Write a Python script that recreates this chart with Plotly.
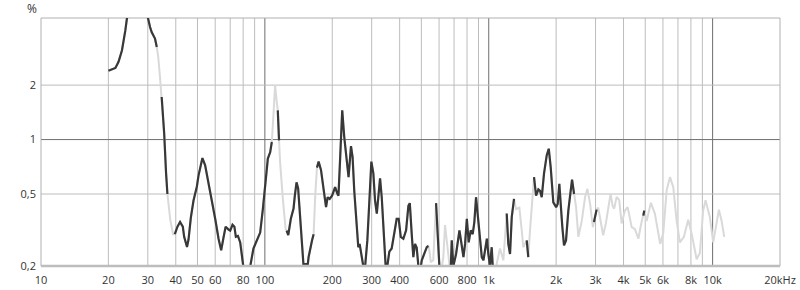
import math
import plotly.graph_objects as go

# ---- data (frequency in Hz, distortion in %) ----
freq_hz = [20.0, 21.5, 22.2, 23.0, 23.8, 24.2, 25.0, 26.5, 28.5, 29.6,
           30.0, 30.7, 31.2, 32.3, 32.9, 33.4, 34.0, 34.6, 35.5, 36.2,
           36.7, 37.8, 38.9, 39.6, 40.7, 41.8, 43.0, 43.6, 44.9, 45.6,
           46.7, 48.0, 49.7, 50.5, 52.6, 54.1, 55.9, 58.0, 60.0, 62.1,
           63.8, 65.2, 66.8, 68.8, 70.0, 71.7, 73.1, 74.2, 75.8, 77.6,
           78.9, 80.2, 83.0, 85.9, 88.9, 92.1, 95.3, 98.0, 101, 103.1,
           105.6, 107.4, 109.2, 111.1, 113, 114.2, 115.7, 116.9, 120.5, 123.8,
           125.1, 127.2, 130.6, 134.3, 136.1, 138.5, 140.8, 143.2, 145.8, 148.2,
           149.5, 150.9, 152.3, 154.0, 156.8, 162.4, 165.1, 168, 170.9, 173.8,
           178.1, 183, 187.6, 190.7, 194.7, 199.6, 206, 211, 213.2, 217,
           221.6, 226.3, 232.7, 236.5, 242.5, 246.5, 250.8, 256, 261.4, 265,
           269.6, 275.4, 278, 280.5, 286.9, 293, 299, 305.2, 310.6, 316.2,
           321.4, 327, 332.7, 338.3, 344.1, 348, 352.4, 359.7, 368.6, 378.6,
           388, 396, 404.5, 415.5, 427.4, 437.6, 444, 452.9, 460.4, 468.5,
           476.6, 485, 492, 502, 528.7, 537.6, 543.2, 551, 565, 581.7,
           589.6, 601.8, 610, 627, 638, 653.5, 667, 675, 683.6, 695,
           714.6, 739.8, 758.3, 771, 784, 798.4, 813.7, 830.8, 848, 862.4,
           877.6, 893.2, 915, 931, 947, 964, 981, 996, 1013, 1031,
           1042, 1060, 1104, 1123, 1162, 1203, 1223, 1245, 1267, 1297,
           1324, 1370, 1404, 1427, 1478, 1502, 1529, 1582, 1593, 1627,
           1666, 1695, 1725, 1766, 1816, 1854, 1892, 1943, 2000, 2033,
           2067, 2097, 2132, 2169, 2214, 2267, 2307, 2356, 2405, 2455,
           2514, 2604, 2694, 2759, 2838, 2918, 2951, 3033, 3084, 3138,
           3244, 3336, 3417, 3502, 3575, 3634, 3725, 3827, 3923, 4058,
           4173, 4350, 4500, 4660, 4785, 4905, 4949, 5073, 5300, 5522,
           5831, 6019, 6235, 6450, 6673, 6907, 7145, 7445, 7780, 8058,
           8485, 8772, 9074, 9300, 9717, 10062, 10420, 10670, 10970, 11270]

thd_pct = [2.40, 2.49, 2.69, 3.12, 4.0, 4.67, 5.6, 7.0, 6.2, 5.0,
           4.67, 4.19, 3.93, 3.62, 3.25, 2.86, 2.22, 1.72, 1.08, 0.65,
           0.50, 0.36, 0.30, 0.30, 0.33, 0.35, 0.33, 0.29, 0.255, 0.28,
           0.37, 0.46, 0.55, 0.63, 0.79, 0.72, 0.58, 0.47, 0.365, 0.283,
           0.244, 0.283, 0.33, 0.318, 0.314, 0.338, 0.33, 0.29, 0.293, 0.27,
           0.229, 0.197, 0.165, 0.197, 0.25, 0.277, 0.306, 0.415, 0.63, 0.785,
           0.85, 0.97, 1.36, 2.0, 1.61, 1.45, 0.99, 0.755, 0.46, 0.32,
           0.314, 0.296, 0.365, 0.415, 0.49, 0.58, 0.537, 0.38, 0.27, 0.197,
           0.185, 0.205, 0.205, 0.185, 0.224, 0.277, 0.30, 0.50, 0.70, 0.755,
           0.68, 0.52, 0.423, 0.48, 0.47, 0.49, 0.546, 0.50, 0.49, 0.80,
           1.45, 1.03, 0.70, 0.62, 0.92, 0.80, 0.52, 0.344, 0.254, 0.265,
           0.233, 0.20, 0.185, 0.20, 0.277, 0.46, 0.755, 0.65, 0.46, 0.39,
           0.48, 0.61, 0.48, 0.30, 0.20, 0.18, 0.20, 0.24, 0.25, 0.315,
           0.365, 0.365, 0.29, 0.283, 0.315, 0.43, 0.445, 0.30, 0.224, 0.265,
           0.253, 0.20, 0.18, 0.215, 0.254, 0.258, 0.243, 0.21, 0.215, 0.445,
           0.30, 0.20, 0.18, 0.224, 0.337, 0.265, 0.20, 0.18, 0.277, 0.20,
           0.233, 0.315, 0.265, 0.224, 0.265, 0.365, 0.27, 0.315, 0.30, 0.35,
           0.48, 0.39, 0.283, 0.224, 0.215, 0.254, 0.283, 0.233, 0.20, 0.254,
           0.20, 0.18, 0.224, 0.25, 0.215, 0.39, 0.265, 0.233, 0.373, 0.47,
           0.413, 0.42, 0.315, 0.254, 0.277, 0.224, 0.315, 0.52, 0.62, 0.49,
           0.53, 0.52, 0.48, 0.65, 0.82, 0.89, 0.70, 0.45, 0.423, 0.44,
           0.57, 0.423, 0.328, 0.26, 0.277, 0.405, 0.50, 0.60, 0.50, 0.423,
           0.29, 0.355, 0.482, 0.534, 0.44, 0.328, 0.35, 0.41, 0.42, 0.373,
           0.296, 0.344, 0.423, 0.503, 0.43, 0.415, 0.482, 0.462, 0.344, 0.405,
           0.423, 0.328, 0.32, 0.283, 0.337, 0.38, 0.405, 0.355, 0.447, 0.39,
           0.265, 0.304, 0.525, 0.62, 0.546, 0.355, 0.27, 0.29, 0.36, 0.302,
           0.218, 0.236, 0.405, 0.462, 0.373, 0.27, 0.344, 0.41, 0.355, 0.29]

# 1 = drawn dark, 0 = drawn light grey
dark_flag = [1, 1, 1, 1, 1, 1, 1, 1, 1, 1,
             1, 1, 1, 1, 1, 0, 0, 1, 1, 1,
             1, 0, 0, 1, 1, 1, 1, 1, 1, 1,
             1, 1, 1, 1, 1, 1, 1, 1, 1, 1,
             1, 1, 1, 1, 1, 1, 1, 1, 1, 1,
             1, 1, 1, 1, 1, 1, 1, 1, 1, 1,
             1, 1, 0, 0, 0, 1, 1, 0, 0, 0,
             1, 1, 1, 1, 1, 1, 1, 1, 1, 1,
             1, 1, 1, 1, 1, 1, 1, 0, 1, 1,
             1, 1, 1, 1, 1, 1, 1, 1, 1, 1,
             1, 1, 1, 1, 1, 1, 1, 1, 1, 1,
             1, 1, 1, 1, 1, 1, 1, 1, 1, 1,
             1, 1, 1, 1, 1, 1, 1, 1, 1, 1,
             1, 1, 1, 1, 1, 1, 1, 1, 1, 1,
             1, 1, 1, 1, 1, 1, 0, 0, 0, 1,
             1, 1, 1, 0, 0, 0, 0, 1, 1, 1,
             1, 1, 1, 1, 1, 1, 1, 1, 1, 1,
             1, 1, 1, 1, 1, 1, 1, 1, 1, 1,
             1, 1, 0, 0, 0, 1, 1, 1, 1, 1,
             0, 0, 0, 0, 1, 1, 0, 0, 1, 1,
             1, 1, 1, 1, 1, 1, 1, 1, 1, 1,
             1, 1, 1, 1, 1, 1, 1, 1, 1, 0,
             0, 0, 0, 0, 0, 0, 1, 1, 0, 0,
             0, 0, 0, 0, 0, 0, 0, 0, 0, 0,
             0, 0, 0, 0, 0, 1, 1, 0, 0, 0,
             0, 0, 0, 0, 0, 0, 0, 0, 0, 0,
             0, 0, 0, 0, 0, 0, 0, 0, 0, 0]

x_tick_vals = [10, 20, 30, 40, 50, 60, 80, 100, 200, 300, 400, 600, 800,
               1000, 2000, 3000, 4000, 5000, 6000, 8000, 10000, 20000]
x_tick_text = ["10", "20", "30", "40", "50", "60", "80", "100", "200", "300",
               "400", "600", "800", "1k", "2k", "3k", "4k", "5k", "6k", "8k",
               "10k", "20kHz"]
y_tick_vals = [0.2, 0.5, 1, 2]
y_tick_text = ["0,2", "0,5", "1", "2"]

minor_grid_x = [20, 30, 40, 50, 60, 70, 80, 90, 200, 300, 400, 500, 600, 700,
                800, 900, 2000, 3000, 4000, 5000, 6000, 7000, 8000, 9000]
major_grid_x = [100, 1000, 10000]
minor_grid_y = [0.5, 2]
major_grid_y = [1]

Y_MIN, Y_MAX = 0.2, 4.7
X_MIN, X_MAX = 10, 20000

dark_y = [v if d else None for v, d in zip(thd_pct, dark_flag)]

fig = go.Figure()
fig.add_trace(go.Scatter(x=freq_hz, y=thd_pct, mode="lines",
                         line=dict(color="#d9d9d9", width=2),
                         hoverinfo="skip", showlegend=False))
fig.add_trace(go.Scatter(x=freq_hz, y=dark_y, mode="lines",
                         line=dict(color="#383838", width=2.2),
                         connectgaps=False, showlegend=False))

shapes = []
for fx in minor_grid_x:
    shapes.append(dict(type="line", xref="x", yref="paper", x0=fx, x1=fx,
                       y0=0, y1=1, line=dict(color="#bdbdbd", width=1),
                       layer="below"))
for fx in major_grid_x:
    shapes.append(dict(type="line", xref="x", yref="paper", x0=fx, x1=fx,
                       y0=0, y1=1, line=dict(color="#6e6e6e", width=1),
                       layer="below"))
for gy in minor_grid_y:
    shapes.append(dict(type="line", xref="paper", yref="y", x0=0, x1=1,
                       y0=gy, y1=gy, line=dict(color="#bdbdbd", width=1),
                       layer="below"))
for gy in major_grid_y:
    shapes.append(dict(type="line", xref="paper", yref="y", x0=0, x1=1,
                       y0=gy, y1=gy, line=dict(color="#6e6e6e", width=1),
                       layer="below"))
# frame
shapes.append(dict(type="line", xref="paper", yref="paper", x0=0, x1=1, y0=1, y1=1,
                   line=dict(color="#b0b0b0", width=1), layer="below"))
shapes.append(dict(type="line", xref="paper", yref="paper", x0=1, x1=1, y0=0, y1=1,
                   line=dict(color="#b0b0b0", width=1), layer="below"))
shapes.append(dict(type="line", xref="paper", yref="paper", x0=0, x1=0, y0=0, y1=1,
                   line=dict(color="#b0b0b0", width=1), layer="below"))
shapes.append(dict(type="line", xref="paper", yref="paper", x0=0, x1=1, y0=0, y1=0,
                   line=dict(color="#bdbdbd", width=2.5), layer="above"))

font_family = "Open Sans, DejaVu Sans, sans-serif"
fig.update_layout(
    width=800, height=290,
    margin=dict(l=41, r=20, t=18, b=24, pad=0),
    paper_bgcolor="white", plot_bgcolor="white",
    font=dict(family=font_family, size=11, color="#333333"),
    shapes=shapes,
    xaxis=dict(type="log", range=[math.log10(X_MIN), math.log10(X_MAX)],
               showgrid=False, zeroline=False, showline=False, ticks="",
               tickvals=x_tick_vals, ticktext=x_tick_text,
               tickfont=dict(size=11, color="#333333"),
               ticklabelstandoff=6, automargin=False, fixedrange=True),
    yaxis=dict(type="log", range=[math.log10(Y_MIN), math.log10(Y_MAX)],
               showgrid=False, zeroline=False, showline=False, ticks="",
               tickvals=y_tick_vals, ticktext=y_tick_text,
               tickfont=dict(size=11, color="#333333"),
               ticklabelstandoff=4, automargin=False, fixedrange=True),
    annotations=[dict(text="%", xref="paper", yref="paper", x=-0.012, y=1.04,
                      xanchor="center", yanchor="middle", showarrow=False,
                      font=dict(size=12, color="#333333"))],
)

fig.write_html("out.html")
